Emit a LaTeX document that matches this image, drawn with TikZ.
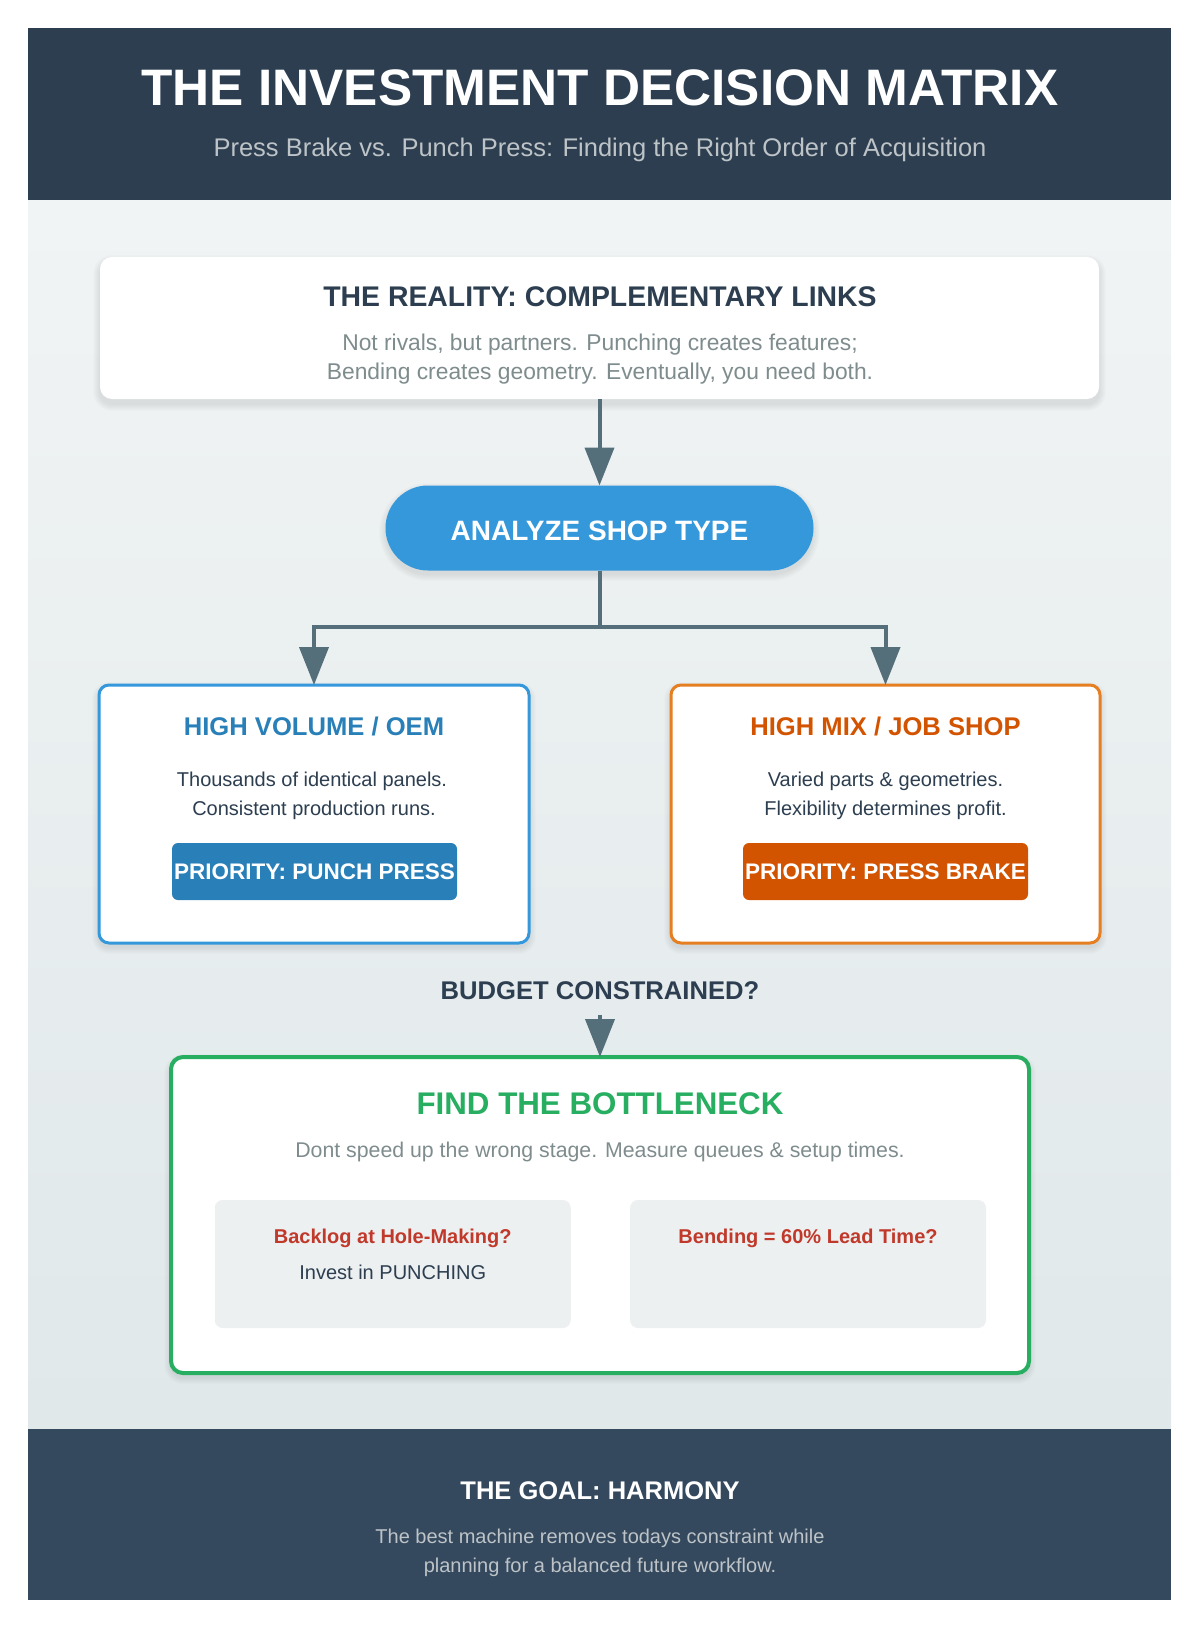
\documentclass[tikz,border=0pt]{standalone}
\usepackage{fontspec}
\setmainfont{Liberation Sans}
\usetikzlibrary{arrows.meta}
\definecolor{hdr}{HTML}{2C3E50}
\definecolor{ftr}{HTML}{34495E}
\definecolor{bgtop}{HTML}{F1F4F5}
\definecolor{bgbot}{HTML}{E0E8E9}
\definecolor{arrowc}{HTML}{546E7A}
\definecolor{pillc}{HTML}{3498DB}
\definecolor{bluet}{HTML}{2980B9}
\definecolor{orangeb}{HTML}{E67E22}
\definecolor{oranget}{HTML}{D35400}
\definecolor{greenc}{HTML}{27AE60}
\definecolor{redt}{HTML}{C0392B}
\definecolor{subc}{HTML}{ECF0F1}
\definecolor{darkt}{HTML}{2C3E50}
\definecolor{grayt}{HTML}{7F8C8D}
\definecolor{lightt}{HTML}{BDC3C7}
\newcommand\fs[1]{\fontsize{#1}{#1}\selectfont}
\newcommand\softshadow[6]{%
  \foreach \i in {1,...,7}{%
    \pgfmathsetmacro\rr{#5+\i}%
    \fill[black, opacity=0.013, rounded corners=\rr pt] (#1-\i,#2-\i+#6) rectangle (#3+\i,#4+\i+#6);
  }}
\begin{document}
\begin{tikzpicture}[x=1pt,y=-1pt,
  every node/.style={inner sep=0pt, outer sep=0pt},
  conn/.style={draw=arrowc, line width=4pt, -{Triangle[width=29pt,length=38pt]}},
  connline/.style={draw=arrowc, line width=4pt},
  card/.style={fill=white, rounded corners=10pt},
  btn/.style={rounded corners=6pt, minimum width=285pt, minimum height=57pt, font=\bfseries\fs{22.5}, text=white},
  bodyline/.style={anchor=base, font=\fs{20}, text=darkt},
  cardtitle/.style={font=\bfseries\fs{25.6}}
]
\useasboundingbox (0,0) rectangle (1200,1629);
\fill[white] (0,0) rectangle (1200,1629);
% panels
\shade[top color=bgtop, bottom color=bgbot] (28,200) rectangle (1171,1429);
\fill[hdr] (28,28) rectangle (1171,200);
\fill[ftr] (28,1429) rectangle (1171,1600);
% header
\node[font=\bfseries\fs{51.3}, text=white] (title) at (600,88) {THE INVESTMENT DECISION MATRIX};
\node[anchor=base, font=\fs{25.5}, text=lightt] (subtitle) at (600,157) {Press Brake vs. Punch Press: Finding the Right Order of Acquisition};
% reality
\softshadow{100}{257}{1099}{399}{12}{5}
\node[card, rounded corners=12pt, minimum width=999pt, minimum height=142pt] (reality) at (599.5,328) {};
\node[font=\bfseries\fs{28.4}, text=darkt] (realityT) at (600,297) {THE REALITY: COMPLEMENTARY LINKS};
\node[anchor=base, font=\fs{22.8}, text=grayt] (realityA) at (600,350) {Not rivals, but partners. Punching creates features;};
\node[anchor=base, font=\fs{22.8}, text=grayt] (realityB) at (600,379) {Bending creates geometry. Eventually, you need both.};
% analyze pill
\softshadow{386}{486}{813}{570}{42}{4}
\node[fill=pillc, rounded corners=42.5pt, minimum width=428pt, minimum height=85pt, text height=24pt, text depth=0pt, font=\bfseries\fs{28}, text=white] (analyze) at (599.5,528) {ANALYZE SHOP TYPE};
% left card
\softshadow{99}{685}{529}{943}{10}{4}
\node[card, draw=pillc, line width=3pt, minimum width=430pt, minimum height=258pt] (volume) at (314,814) {};
\node[cardtitle, text=bluet] (volumeT) at (314,726) {HIGH VOLUME / OEM};
\node[bodyline] (volumeA) at (312,786.5) {Thousands of identical panels.};
\node[bodyline] (volumeB) at (314,815) {Consistent production runs.};
\node[btn, fill=bluet] (punch) at (314.5,871.5) {PRIORITY: PUNCH PRESS};
% right card
\softshadow{671}{685}{1100}{943}{10}{4}
\node[card, draw=orangeb, line width=3pt, minimum width=429pt, minimum height=258pt] (mix) at (885.5,814) {};
\node[cardtitle, text=oranget] (mixT) at (885.5,726) {HIGH MIX / JOB SHOP};
\node[bodyline] (mixA) at (885.5,786.5) {Varied parts \& geometries.};
\node[bodyline] (mixB) at (885.5,815) {Flexibility determines profit.};
\node[btn, fill=oranget] (brake) at (885.5,871.5) {PRIORITY: PRESS BRAKE};
% connectors top
\draw[conn] (reality.south) -- (analyze.north);
\coordinate (split) at (599.5,627);
\draw[connline] (analyze.south) -- (split);
\draw[conn] (split) -| (volume.north);
\draw[conn] (split) -| (mix.north);
% budget
\node[font=\bfseries\fs{25.6}, text=darkt] (budget) at (600,991) {BUDGET CONSTRAINED?};
% bottleneck
\softshadow{171}{1057}{1029}{1373}{12}{4}
\node[card, draw=greenc, line width=4pt, rounded corners=12pt, minimum width=858pt, minimum height=316pt] (bottleneck) at (600,1215) {};
\coordinate (budgetout) at (600,1015);
\draw[conn] (budgetout) -- (bottleneck.north);
\node[font=\bfseries\fs{31.3}, text=greenc] (bottleneckT) at (600,1104) {FIND THE BOTTLENECK};
\node[anchor=base, font=\fs{21.3}, text=grayt] (bottleneckA) at (600,1157) {Dont speed up the wrong stage. Measure queues \& setup times.};
\node[fill=subc, rounded corners=8pt, minimum width=356pt, minimum height=128pt] (hole) at (392.75,1264) {};
\node[fill=subc, rounded corners=8pt, minimum width=356pt, minimum height=128pt] (bend) at (808,1264) {};
\node[anchor=base, font=\bfseries\fs{20}, text=redt] (holeT) at (392.75,1243) {Backlog at Hole-Making?};
\node[bodyline] (holeA) at (392.75,1279) {Invest in PUNCHING};
\node[anchor=base, font=\bfseries\fs{20}, text=redt] (bendT) at (808,1243) {Bending = 60\% Lead Time?};
% footer
\node[font=\bfseries\fs{25.5}, text=white] (goal) at (600,1491) {THE GOAL: HARMONY};
\node[anchor=base, font=\fs{20}, text=lightt] (goalA) at (600,1543) {The best machine removes todays constraint while};
\node[anchor=base, font=\fs{20}, text=lightt] (goalB) at (600,1572) {planning for a balanced future workflow.};
\end{tikzpicture}
\end{document}
